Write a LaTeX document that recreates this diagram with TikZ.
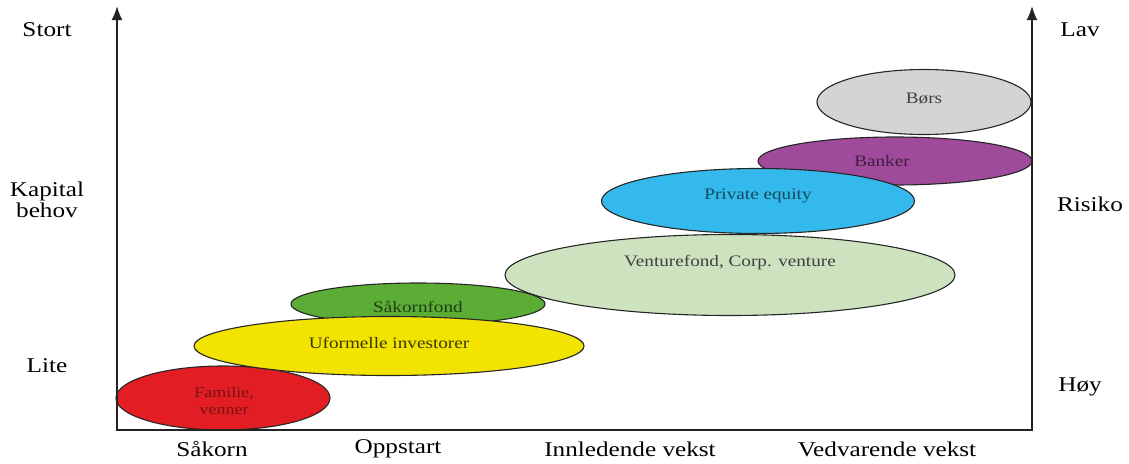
\documentclass[tikz,border=0pt]{standalone}
\usepackage{fontspec}
\setmainfont{Liberation Serif}[FakeStretch=1.2]
\usetikzlibrary{shapes.geometric,arrows.meta}
\definecolor{cred}{RGB}{226,30,36}
\definecolor{cyellow}{RGB}{242,228,0}
\definecolor{cgreen}{RGB}{92,173,54}
\definecolor{clgreen}{RGB}{205,227,192}
\definecolor{cblue}{RGB}{52,185,236}
\definecolor{cpurple}{RGB}{160,74,155}
\definecolor{cgrey}{RGB}{212,212,212}
\definecolor{axisc}{RGB}{35,35,35}
\tikzset{
  ell/.style={ellipse, draw=black!85, line width=1.1pt, inner sep=0pt, outer sep=0pt},
  lbl/.style={font=\fontsize{16}{18}\selectfont, inner sep=0pt},
  axlbl/.style={font=\fontsize{21}{24}\selectfont, inner sep=0pt, align=center},
  axis/.style={draw=axisc, line width=2pt},
  arr/.style={-{Latex[length=14pt,width=11pt]}}
}
\begin{document}
\begin{tikzpicture}[x=1pt,y=-1pt]
\useasboundingbox (0,0) rectangle (1129,463);
% ellipses
\node[ell, fill=cred, minimum width=214pt, minimum height=64pt] (fam) at (223,398) {};
\node[ell, fill=cgreen, minimum width=254pt, minimum height=42pt] (sak) at (418,304) {};
\node[lbl, text=cgreen!35!black] (sakT) at (418,307) {Såkornfond};
\node[ell, fill=cyellow, minimum width=390pt, minimum height=59pt] (ufo) at (389,346) {};
\node[lbl, text=cyellow!25!black] (ufoT) at (389,343) {Uformelle investorer};
\node[lbl, text=cred!55!black, font=\fontsize{15}{17}\selectfont, align=center] (famT) at (224,401) {Familie,\\venner};
\node[ell, fill=clgreen, minimum width=450pt, minimum height=81pt] (ven) at (730,275) {};
\node[lbl, text=black!75] (venT) at (730,263) {Venturefond, Corp. venture};
\node[ell, fill=cpurple, minimum width=274pt, minimum height=48pt] (ban) at (895,161) {};
\node[lbl, text=cpurple!40!black] (banT) at (882,161) {Banker};
\node[ell, fill=cblue, minimum width=313pt, minimum height=65pt] (pe) at (758,201) {};
\node[lbl, text=cblue!40!black] (peT) at (758,196) {Private equity};
\node[ell, fill=cgrey, minimum width=214pt, minimum height=65pt] (bor) at (924,102) {};
\node[lbl, text=black!75] (borT) at (924,99) {Børs};
% axes
\coordinate (o) at (117,430);
\coordinate (tl) at (117,6);
\coordinate (br) at (1032,430);
\coordinate (tr) at (1032,6);
\draw[axis, arr, line cap=rect] (br) -- (o) -- (tl);
\draw[axis, arr] (br) -- (tr);
% axis labels
\node[axlbl] (stort) at (47,30) {Stort};
\node[axlbl] (kap) at (47,200) {Kapital\\[-3pt]behov};
\node[axlbl] (lite) at (47,366) {Lite};
\node[axlbl] (lav) at (1080,30) {Lav};
\node[axlbl] (ris) at (1090,204) {Risiko};
\node[axlbl] (hoy) at (1080,387) {Høy};
\node[axlbl] (s1) at (212,449) {Såkorn};
\node[axlbl] (s2) at (398,449) {Oppstart};
\node[axlbl] (s3) at (630,449) {Innledende vekst};
\node[axlbl] (s4) at (887,449) {Vedvarende vekst};
\end{tikzpicture}
\end{document}
